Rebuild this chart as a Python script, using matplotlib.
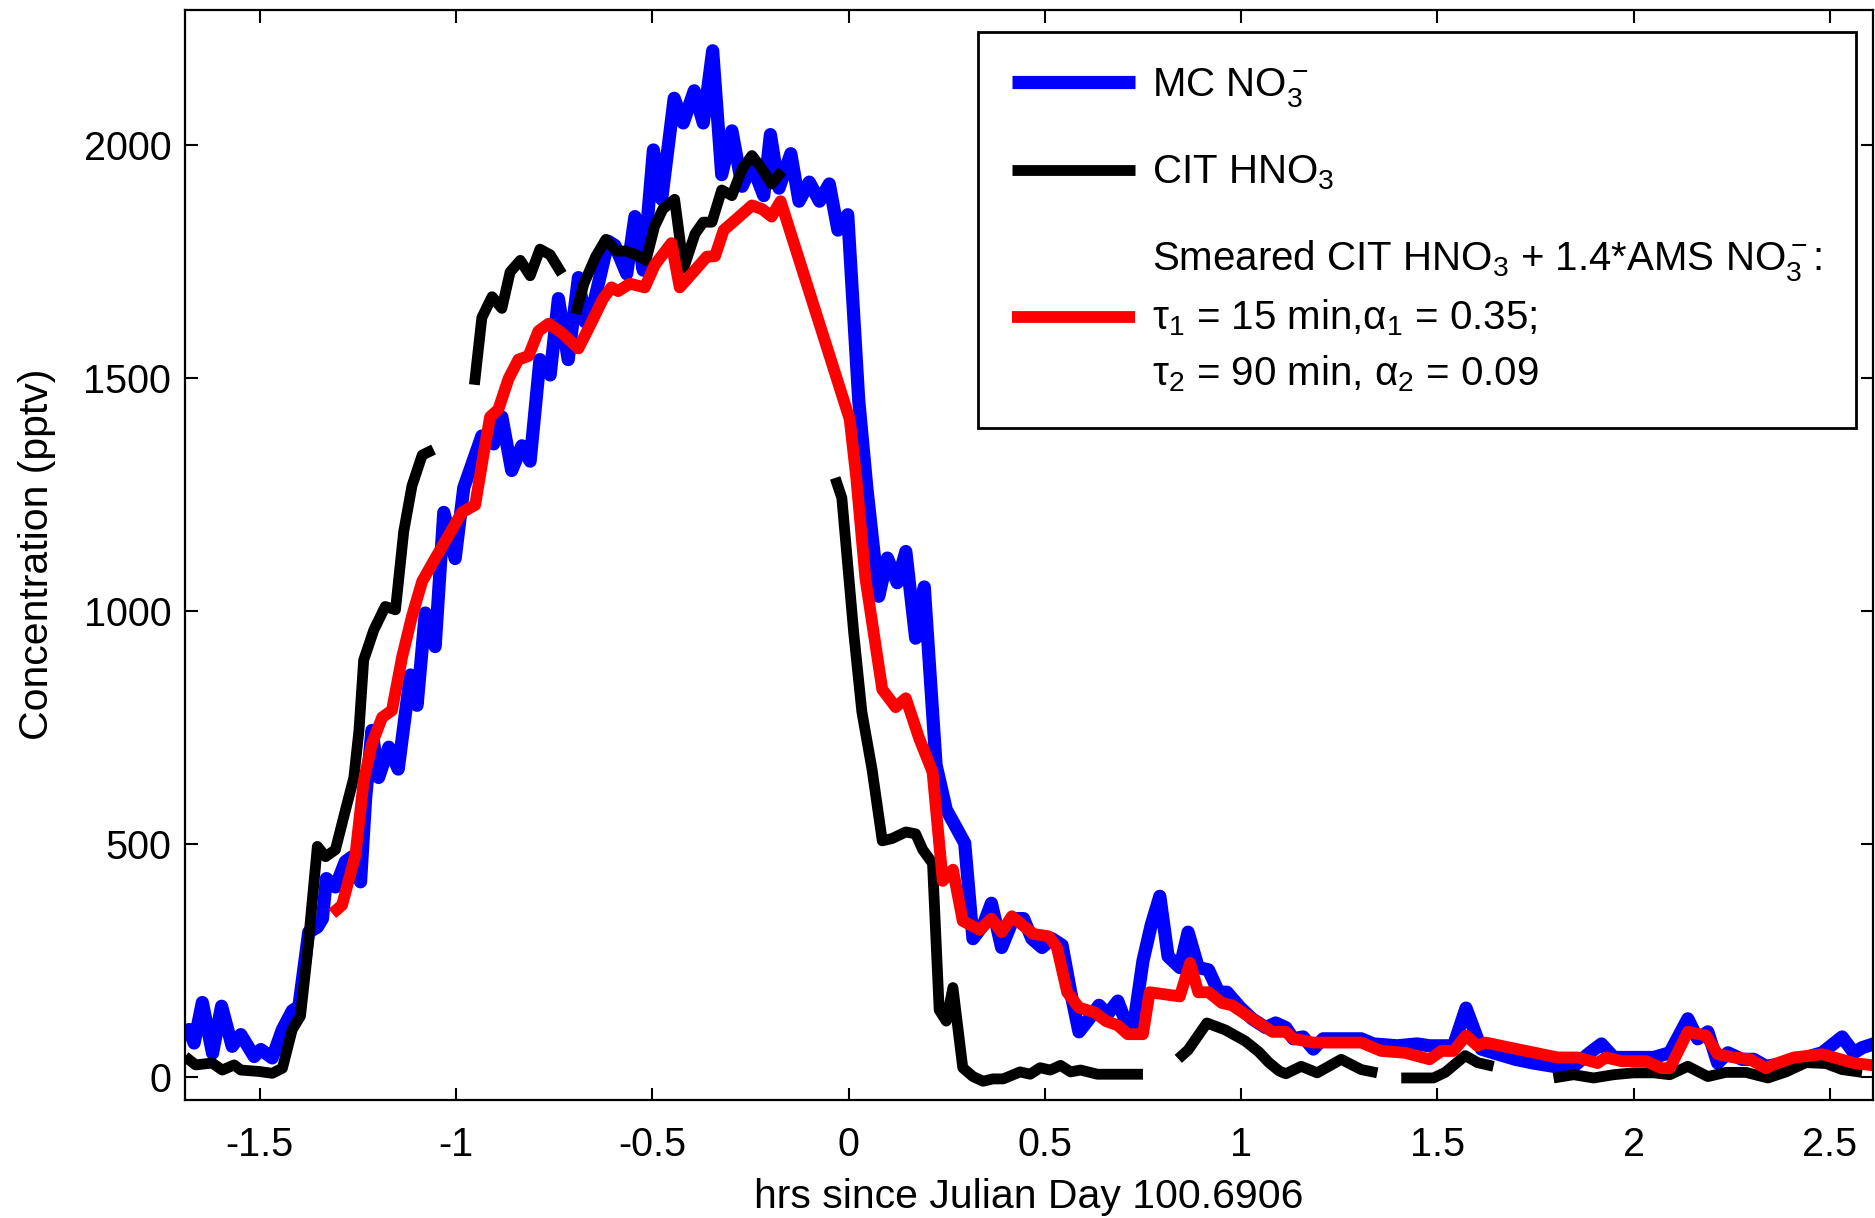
import numpy as np
import matplotlib
matplotlib.use('Agg')
import matplotlib.pyplot as plt
from matplotlib.ticker import FormatStrFormatter

plt.rcParams['font.family'] = ['Liberation Sans', 'DejaVu Sans']
plt.rcParams['mathtext.fontset'] = 'custom'
plt.rcParams['mathtext.rm'] = 'Liberation Sans'
plt.rcParams['mathtext.it'] = 'Liberation Sans'
plt.rcParams['mathtext.sf'] = 'Liberation Sans'
plt.rcParams['axes.unicode_minus'] = False

# MC NO3- (blue)
mc_x = [-1.690, -1.680, -1.667, -1.646, -1.620, -1.597, -1.570, -1.548, -1.514, -1.497, -1.468,
        -1.442, -1.417, -1.400, -1.375, -1.353, -1.340, -1.330, -1.307, -1.282, -1.264, -1.243,
        -1.230, -1.214, -1.197, -1.171, -1.147, -1.116, -1.099, -1.078, -1.053, -1.031, -1.002,
        -0.980, -0.934, -0.904, -0.883, -0.858, -0.832, -0.811, -0.786, -0.760, -0.739, -0.714,
        -0.688, -0.671, -0.646, -0.612, -0.595, -0.565, -0.544, -0.523, -0.497, -0.476, -0.444,
        -0.421, -0.393, -0.370, -0.346, -0.323, -0.297, -0.271, -0.246, -0.216, -0.199, -0.177,
        -0.147, -0.126, -0.100, -0.074, -0.049, -0.027, -0.002, 0.026, 0.047, 0.077, 0.099,
        0.124, 0.146, 0.171, 0.193, 0.223, 0.249, 0.274, 0.296, 0.317, 0.343, 0.364, 0.390,
        0.420, 0.446, 0.467, 0.493, 0.518, 0.544, 0.566, 0.587, 0.613, 0.638, 0.660, 0.686,
        0.707, 0.724, 0.750, 0.771, 0.793, 0.814, 0.844, 0.865, 0.891, 0.917, 0.943, 0.964,
        0.998, 1.028, 1.063, 1.088, 1.114, 1.133, 1.158, 1.184, 1.209, 1.306, 1.337, 1.398,
        1.449, 1.480, 1.541, 1.573, 1.612, 1.643, 1.699, 1.745, 1.796, 1.847, 1.888, 1.918,
        1.949, 2.051, 2.092, 2.138, 2.163, 2.189, 2.214, 2.240, 2.276, 2.306, 2.337, 2.388,
        2.480, 2.531, 2.561, 2.582, 2.622]
mc_y = [95, 101, 72, 159, 50, 151, 65, 90, 43, 58, 40,
        101, 141, 151, 310, 321, 339, 425, 407, 461, 472, 418,
        598, 743, 642, 707, 660, 862, 797, 995, 923, 1211, 1112,
        1264, 1375, 1358, 1416, 1301, 1354, 1321, 1539, 1506, 1670, 1539,
        1715, 1620, 1670, 1793, 1784, 1723, 1846, 1731, 1989, 1883, 2100,
        2047, 2116, 2047, 2202, 1936, 2030, 1911, 1957, 1891, 2022, 1907,
        1981, 1879, 1920, 1879, 1916, 1817, 1850, 1452, 1261, 1031, 1113,
        1060, 1127, 941, 1051, 669, 573, 535, 501, 296, 325, 372, 277,
        339, 339, 296, 277, 296, 282, 181, 96, 124, 153, 134, 162,
        115, 96, 248, 325, 387, 258, 234, 310, 234, 229, 181, 181,
        148, 124, 105, 115, 105, 81, 85, 59, 81, 81, 70, 66,
        70, 66, 66, 147, 59, 51, 37, 29, 22, 22, 51, 70,
        41, 41, 51, 124, 81, 96, 29, 51, 37, 37, 22, 29,
        51, 85, 51, 62, 73]

# CIT HNO3 (black), gaps as nan
nan = np.nan
cit_x = [-1.690, -1.663, -1.621, -1.595, -1.565, -1.548, -1.502, -1.468, -1.442, -1.417, -1.396,
         -1.379, -1.353, -1.332, -1.307, -1.282, -1.260, -1.247, -1.235, -1.209, -1.180, -1.154,
         -1.133, -1.112, -1.086, -1.057, nan,
         -0.953, -0.934, -0.908, -0.883, -0.862, -0.836, -0.811, -0.786, -0.760, -0.730, nan,
         -0.695, -0.674, -0.644, -0.618, -0.592, -0.567, -0.541, -0.516, -0.494, -0.473, -0.443,
         -0.420, -0.391, -0.370, -0.348, -0.323, -0.297, -0.271, -0.246, -0.220, -0.196, -0.169, nan,
         -0.034, -0.017, 0.013, 0.034, 0.060, 0.086, 0.111, 0.146, 0.171, 0.189, 0.214, 0.231,
         0.249, 0.266, 0.291, 0.317, 0.343, 0.368, 0.394, 0.437, 0.463, 0.488, 0.514, 0.540,
         0.566, 0.591, 0.634, 0.686, 0.750, nan,
         0.840, 0.865, 0.913, 0.960, 1.011, 1.045, 1.071, 1.097, 1.114, 1.153, 1.194, 1.255,
         1.306, 1.347, nan,
         1.408, 1.490, 1.520, 1.571, 1.602, 1.643, nan,
         1.796, 1.847, 1.898, 1.949, 2.000, 2.051, 2.092, 2.138, 2.189, 2.235, 2.286, 2.342,
         2.388, 2.439, 2.490, 2.531, 2.582]
cit_y = [43, 25, 29, 14, 25, 14, 11, 7, 18, 101, 130,
         260, 494, 472, 487, 570, 642, 743, 894, 959, 1009, 1002,
         1170, 1268, 1334, 1346, nan,
         1485, 1629, 1674, 1649, 1727, 1752, 1719, 1776, 1764, 1723, nan,
         1637, 1702, 1760, 1797, 1772, 1772, 1764, 1752, 1825, 1862, 1883,
         1735, 1809, 1834, 1834, 1903, 1891, 1948, 1977, 1948, 1916, 1944, nan,
         1285, 1242, 955, 783, 659, 506, 511, 525, 521, 487, 458, 143,
         119, 191, 19, 0, -10, -5, -5, 10, 5, 19, 14, 24,
         10, 14, 5, 5, 5, nan,
         38, 57, 115, 100, 76, 53, 30, 12, 6, 22, 8, 37,
         15, 8, nan,
         -3, -3, 9, 45, 30, 22, nan,
         -3, 4, -3, 4, 8, 8, 4, 22, 0, 9, 9, -3,
         10, 30, 28, 15, 9]

# Smeared CIT HNO3 + 1.4*AMS NO3- (red)
sm_x = [-1.315, -1.290, -1.256, -1.235, -1.214, -1.188, -1.163, -1.137, -1.112, -1.086, -1.053,
        -1.019, -0.985, -0.951, -0.930, -0.913, -0.892, -0.866, -0.841, -0.815, -0.790, -0.764,
        -0.730, -0.688, -0.654, -0.625, -0.604, -0.587, -0.557, -0.519, -0.493, -0.451, -0.430,
        -0.391, -0.361, -0.340, -0.318, -0.289, -0.246, -0.220, -0.196, -0.173, 0.003, 0.020,
        0.043, 0.086, 0.120, 0.146, 0.180, 0.214, 0.240, 0.266, 0.291, 0.334, 0.364, 0.390,
        0.416, 0.471, 0.510, 0.531, 0.557, 0.587, 0.626, 0.656, 0.686, 0.711, 0.750, 0.767,
        0.844, 0.870, 0.891, 0.917, 0.951, 0.977, 1.028, 1.080, 1.114, 1.133, 1.184, 1.306,
        1.357, 1.418, 1.480, 1.510, 1.541, 1.573, 1.602, 1.622, 1.806, 1.857, 1.908, 1.929,
        1.969, 2.031, 2.071, 2.092, 2.138, 2.184, 2.214, 2.255, 2.296, 2.337, 2.357, 2.408,
        2.480, 2.561, 2.631]
sm_y = [350, 368, 476, 634, 714, 771, 786, 901, 988, 1063, 1112,
        1161, 1211, 1227, 1334, 1416, 1432, 1498, 1539, 1547, 1600, 1616,
        1596, 1563, 1620, 1670, 1694, 1686, 1702, 1694, 1743, 1789, 1694,
        1731, 1760, 1761, 1817, 1838, 1870, 1862, 1846, 1879, 1411, 1284,
        1070, 831, 793, 812, 726, 654, 420, 444, 334, 315, 339, 310,
        344, 306, 301, 277, 181, 148, 138, 119, 110, 91, 91, 181,
        172, 244, 181, 181, 158, 153, 124, 96, 96, 81, 73, 73,
        55, 51, 37, 55, 55, 88, 66, 73, 41, 41, 29, 41,
        33, 33, 18, 18, 96, 88, 48, 41, 37, 18, 26, 41,
        48, 29, 22]

fig = plt.figure(figsize=(18.75, 12.18), dpi=100)
ax = fig.add_axes([0.0987, 0.097, 0.9003, 0.895])

kw = dict(solid_capstyle='butt', solid_joinstyle='round')
ax.plot(mc_x, mc_y, color='#0000ff', lw=9.5, label=r'MC NO$_3^-$', **kw)
ax.plot(cit_x, cit_y, color='black', lw=7.8, label=r'CIT HNO$_3$', **kw)
ax.plot(sm_x, sm_y, color='#ff0000', lw=8.5, **kw,
        label='Smeared CIT HNO$_3$ + 1.4*AMS NO$_3^-$:\n'
              'τ$_1$ = 15 min,α$_1$ = 0.35;\n'
              'τ$_2$ = 90 min, α$_2$ = 0.09')

ax.set_xlim(-1.69, 2.61)
ax.set_ylim(-50, 2290)
ax.set_xticks(np.arange(-1.5, 2.51, 0.5))
ax.set_yticks([0, 500, 1000, 1500, 2000])
ax.xaxis.set_major_formatter(FormatStrFormatter('%g'))
ax.tick_params(direction='in', length=9, width=1.5, labelsize=28.5,
               top=True, right=True)
ax.tick_params(axis='x', pad=19)
ax.tick_params(axis='y', pad=10)
for s in ax.spines.values():
    s.set_linewidth(1.6)

ax.set_xlabel('hrs since Julian Day 100.6906', fontsize=29.5, labelpad=10)
ax.set_ylabel('Concentration (pptv)', fontsize=29.5, labelpad=20)

leg = ax.legend(loc='upper right', bbox_to_anchor=(0.99, 0.98), fontsize=29,
                fancybox=False, edgecolor='black', framealpha=1,
                borderaxespad=0, handlelength=3.05, handletextpad=0.42,
                labelspacing=1.12, borderpad=0.85)
leg.get_frame().set_linewidth(2)
leg.get_texts()[2].set_linespacing(1.47)

fig.savefig('out.png', dpi=100)
